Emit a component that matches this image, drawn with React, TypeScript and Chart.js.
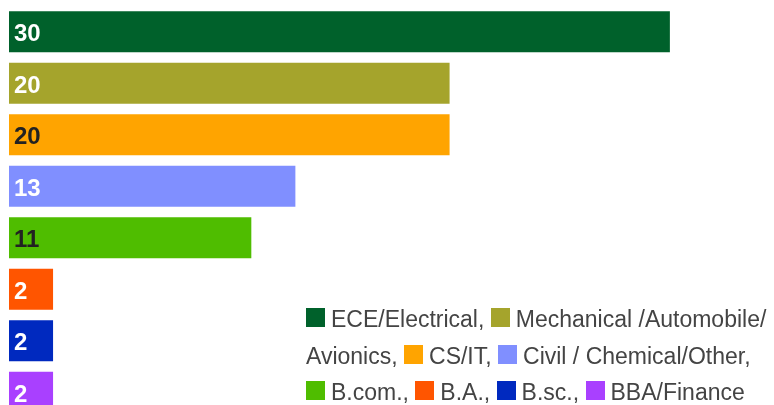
import React, { useEffect, useRef } from "react";
import { Chart, registerables } from "chart.js";

Chart.register(...registerables);

const categories = [
  "ECE/Electrical",
  "Mechanical /Automobile/ Avionics",
  "CS/IT",
  "Civil / Chemical/Other",
  "B.com.",
  "B.A.",
  "B.sc.",
  "BBA/Finance",
];
const values = [30, 20, 20, 13, 11, 2, 2, 2];
const colors = ["#00612B", "#A5A42C", "#FFA400", "#808FFF", "#4FBD00", "#FF5500", "#0029BF", "#A940FF"];
const labelColors = ["#ffffff", "#ffffff", "#222222", "#ffffff", "#222222", "#ffffff", "#ffffff", "#ffffff"];

const valueLabelPlugin = {
  id: "valueLabels",
  afterDatasetsDraw(chart: any) {
    const ctx = chart.ctx;
    const meta = chart.getDatasetMeta(0);
    ctx.save();
    ctx.font = "bold 24px 'Liberation Sans', Arial, sans-serif";
    ctx.textAlign = "left";
    ctx.textBaseline = "alphabetic";
    meta.data.forEach((bar: any, i: number) => {
      ctx.fillStyle = labelColors[i];
      ctx.fillText(String(values[i]), bar.base + 5, bar.y + 9.5);
    });
    ctx.restore();
  },
};

export default function App() {
  const ref = useRef<HTMLCanvasElement>(null);
  useEffect(() => {
    document.body.style.overflow = "hidden";
    const chart = new Chart(ref.current!, {
      type: "bar",
      data: {
        labels: categories,
        datasets: [
          {
            data: values,
            backgroundColor: colors,
            borderWidth: 0,
            barPercentage: 1,
            categoryPercentage: 0.796,
          },
        ],
      },
      options: {
        indexAxis: "y",
        animation: false,
        responsive: false,
        maintainAspectRatio: false,
        layout: { padding: { top: 6, bottom: 2, left: 9, right: 16 } },
        plugins: { legend: { display: false }, tooltip: { enabled: false } },
        scales: {
          x: { display: false, min: 0, max: 34 },
          y: { display: false },
        },
      },
      plugins: [valueLabelPlugin],
    });
    return () => chart.destroy();
  }, []);

  return (
    <div style={{ position: "fixed", left: 0, top: 0, width: 774, height: 420 }}>
      <canvas ref={ref} width={774} height={420} style={{ display: "block" }} />
      <div
        style={{
          position: "absolute",
          left: 306,
          top: 301,
          width: 468,
          fontFamily: "'Liberation Sans', Arial, sans-serif",
          fontSize: 23,
          lineHeight: "36.7px",
          color: "#444444",
        }}
      >
        {categories.map((c, i) => (
          <React.Fragment key={c}>
            <span style={{ whiteSpace: "nowrap" }}>
              <span
                style={{
                  display: "inline-block",
                  width: 19,
                  height: 19,
                  background: colors[i],
                  verticalAlign: "baseline",
                  marginRight: 6,
                }}
              />
              {c.split(" ")[0]}
            </span>
            {c.split(" ").length > 1 ? " " + c.split(" ").slice(1).join(" ") : ""}
            {i < categories.length - 1 ? ", " : ""}
          </React.Fragment>
        ))}
      </div>
    </div>
  );
}
